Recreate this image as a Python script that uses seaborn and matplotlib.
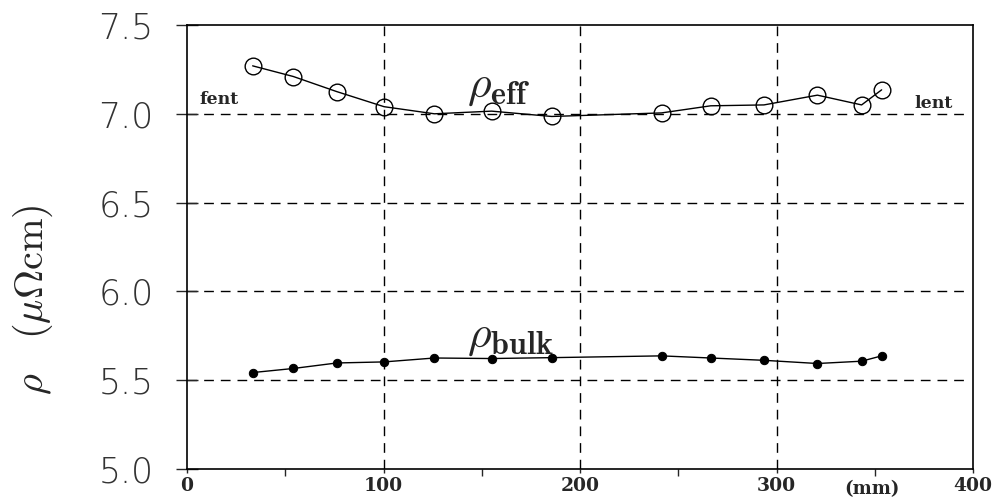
import matplotlib
matplotlib.use("Agg")
import matplotlib.pyplot as plt
import seaborn as sns
import pandas as pd
from matplotlib.ticker import MultipleLocator

# data
x_pos = [33.4, 54.1, 76.2, 100.3, 125.9, 155.0, 185.6, 241.5, 266.5, 293.6, 320.8, 343.3, 353.5]
rho_eff = [7.27, 7.21, 7.125, 7.04, 7.00, 7.015, 6.985, 7.005, 7.045, 7.05, 7.105, 7.05, 7.135]
rho_bulk = [5.543, 5.566, 5.597, 5.603, 5.625, 5.622, 5.627, 5.637, 5.625, 5.612, 5.594, 5.607, 5.637]
y_ticks = [5.0, 5.5, 6.0, 6.5, 7.0, 7.5]
x_ticks = [0, 100, 200, 300, 400]

sns.set_style("white")
plt.rcParams["mathtext.fontset"] = "cm"
plt.rcParams["font.family"] = ["DejaVu Sans"]

df_eff = pd.DataFrame({"x": x_pos, "y": rho_eff})
df_bulk = pd.DataFrame({"x": x_pos, "y": rho_bulk})

fig = plt.figure(figsize=(9.99, 5.0), dpi=100)
ax = fig.add_axes([0.1872, 0.062, 0.974 - 0.1872, 0.95 - 0.062])

sns.lineplot(data=df_eff, x="x", y="y", ax=ax, color="black", lw=1.0,
             marker="o", markersize=12, markerfacecolor="none",
             markeredgecolor="black", markeredgewidth=1.0, sort=False)
sns.lineplot(data=df_bulk, x="x", y="y", ax=ax, color="black", lw=1.0,
             marker="o", markersize=6, markerfacecolor="black",
             markeredgecolor="black", sort=False)

ax.set_xlim(0, 400)
ax.set_ylim(5.0, 7.5)
ax.set_xticks(x_ticks)
ax.set_yticks(y_ticks)
ax.xaxis.set_minor_locator(MultipleLocator(50))

ax.set_yticklabels([f"{v:.1f}" for v in y_ticks], fontsize=25,
                   fontweight="light", color="#333333")
ax.set_xticklabels([str(v) for v in x_ticks], fontsize=13.5,
                   fontfamily="DejaVu Serif", fontweight="bold")

ax.tick_params(axis="y", which="major", direction="inout", length=16,
               width=1.0, pad=16, left=True)
ax.tick_params(axis="x", which="major", direction="out", length=3,
               width=1.0, pad=3, bottom=True)
ax.tick_params(axis="x", which="minor", direction="out", length=5,
               width=1.0, bottom=True)

for s in ax.spines.values():
    s.set_color("black")
    s.set_linewidth(1.2)
    s.set_visible(True)

for yv in [5.5, 6.0, 6.5, 7.0]:
    ax.axhline(yv, color="black", lw=1.0, ls=(0, (7, 5)), xmax=0.99, zorder=0)
for xv in [100, 200, 300]:
    ax.axvline(xv, color="black", lw=1.0, ls=(0, (7, 5)), zorder=0)

ax.set_xlabel("")
ax.set_ylabel(r"$\rho\ \ \ (\mu\Omega\mathrm{cm})$", fontsize=29)
ax.yaxis.set_label_coords(-0.168, 0.38)

ax.text(6.6, 7.08, "fent", fontsize=12.5, fontfamily="DejaVu Serif",
        fontweight="bold", ha="left", va="center")
ax.text(370.0, 7.056, "lent", fontsize=12.5, fontfamily="DejaVu Serif",
        fontweight="bold", ha="left", va="center")
ax.text(142.5, 7.16, r"$\rho_{\mathbf{eff}}$", fontsize=33, ha="left", va="center")
ax.text(142.5, 5.75, r"$\rho_{\mathbf{bulk}}$", fontsize=33, ha="left", va="center")
ax.text(348.6, 4.885, "(mm)", fontsize=13, fontfamily="DejaVu Serif",
        fontweight="bold", ha="center", va="center", clip_on=False)

fig.savefig("out.png", dpi=100)
